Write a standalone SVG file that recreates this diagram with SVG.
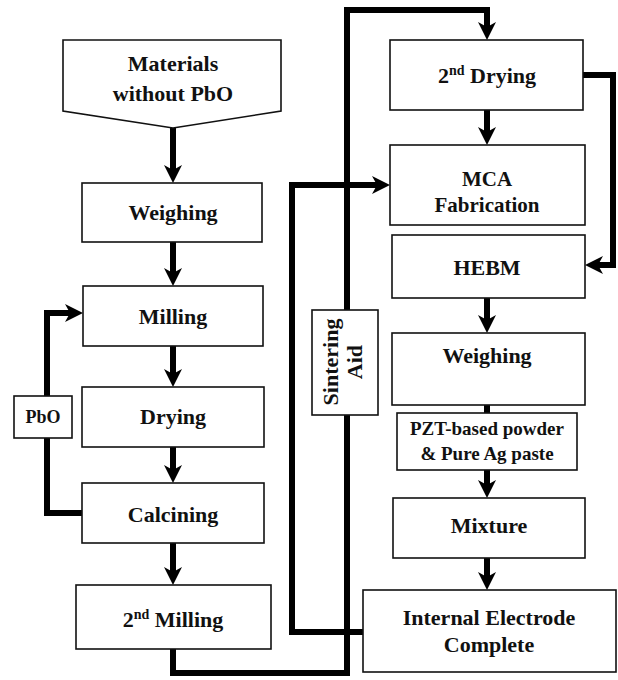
<svg xmlns="http://www.w3.org/2000/svg" width="618" height="680" viewBox="0 0 618 680">
<style>
.box{fill:#fff;stroke:#111;stroke-width:1.6}
.t{font-family:"Liberation Serif","Times New Roman",serif;font-weight:bold;font-size:22px;fill:#111;text-anchor:middle}
.s{font-size:18px}
.p{font-size:19px}
.m{font-size:21px}
.c{fill:none;stroke:#000;stroke-width:6;stroke-linejoin:miter}
</style>
<defs>
<marker id="ah" viewBox="0 0 18 18" markerWidth="18" markerHeight="18" refX="5" refY="9" orient="auto" markerUnits="userSpaceOnUse">
<path d="M0,0 L18,9 L0,18 L5,9 z" fill="#000"/>
</marker>
</defs>
<rect width="618" height="680" fill="#fff"/>
<g id="connectors">
<path class="c" d="M173,128 V170" marker-end="url(#ah)"/>
<path class="c" d="M173,242 V273" marker-end="url(#ah)"/>
<path class="c" d="M173,346 V374" marker-end="url(#ah)"/>
<path class="c" d="M173,447 V470" marker-end="url(#ah)"/>
<path class="c" d="M173,543 V572" marker-end="url(#ah)"/>
<path class="c" d="M82,513 H47 V313 H70" marker-end="url(#ah)"/>
<path class="c" d="M173,649 V673 H347 V10 H487 V27" marker-end="url(#ah)"/>
<path class="c" d="M363,632 H292 V185 H377" marker-end="url(#ah)"/>
<path class="c" d="M487,110 V132" marker-end="url(#ah)"/>
<path class="c" d="M583,75 H613 V265 H598" marker-end="url(#ah)"/>
<path class="c" d="M487,298 V320" marker-end="url(#ah)"/>
<path class="c" d="M487,405 V413"/>
<path class="c" d="M487,470 V485" marker-end="url(#ah)"/>
<path class="c" d="M487,558 V577" marker-end="url(#ah)"/>
</g>
<g id="materials">
<polygon class="box" points="63,40 281,40 281,111 173,128 63,111"/>
<text class="t" x="173" y="71">Materials</text>
<text class="t" x="173" y="101">without PbO</text>
</g>
<g id="weighing1">
<rect class="box" x="82" y="183" width="180" height="59"/>
<text class="t" x="173" y="220">Weighing</text>
</g>
<g id="milling">
<rect class="box" x="83" y="286" width="180" height="60"/>
<text class="t" x="173" y="324">Milling</text>
</g>
<g id="drying">
<rect class="box" x="82" y="387" width="182" height="60"/>
<text class="t" x="173" y="424">Drying</text>
</g>
<g id="calcining">
<rect class="box" x="82" y="483" width="182" height="60"/>
<text class="t" x="173" y="522">Calcining</text>
</g>
<g id="milling2">
<rect class="box" x="76" y="585" width="195" height="64"/>
<text class="t" x="173" y="627">2<tspan font-size="14" dy="-8">nd</tspan><tspan dy="8"> Milling</tspan></text>
</g>
<g id="pbo">
<rect class="box" x="14" y="396" width="58" height="42"/>
<text class="t s" x="43" y="423">PbO</text>
</g>
<g id="sintering">
<rect class="box" x="312" y="310" width="66" height="105"/>
<text class="t" transform="translate(345,362) rotate(-90)"><tspan x="0" y="-7">Sintering</tspan><tspan x="0" y="17">Aid</tspan></text>
</g>
<g id="drying2">
<rect class="box" x="390" y="40" width="193" height="70"/>
<text class="t" x="487" y="83">2<tspan font-size="14" dy="-8">nd</tspan><tspan dy="8"> Drying</tspan></text>
</g>
<g id="mca">
<rect class="box" x="390" y="145" width="195" height="80"/>
<text class="t m" x="487" y="186">MCA</text>
<text class="t m" x="487" y="212">Fabrication</text>
</g>
<g id="hebm">
<rect class="box" x="392" y="235" width="193" height="63"/>
<text class="t" x="487" y="275">HEBM</text>
</g>
<g id="weighing2">
<rect class="box" x="392" y="333" width="193" height="72"/>
<text class="t" x="487" y="363">Weighing</text>
</g>
<g id="pzt">
<rect class="box" x="397" y="413" width="180" height="57"/>
<text class="t p" x="487" y="435">PZT-based powder</text>
<text class="t p" x="487" y="460">&amp; Pure Ag paste</text>
</g>
<g id="mixture">
<rect class="box" x="393" y="498" width="192" height="60"/>
<text class="t" x="489" y="533">Mixture</text>
</g>
<g id="internal">
<rect class="box" x="363" y="590" width="253" height="82"/>
<text class="t" x="489" y="625">Internal Electrode</text>
<text class="t" x="489" y="652">Complete</text>
</g>
</svg>
